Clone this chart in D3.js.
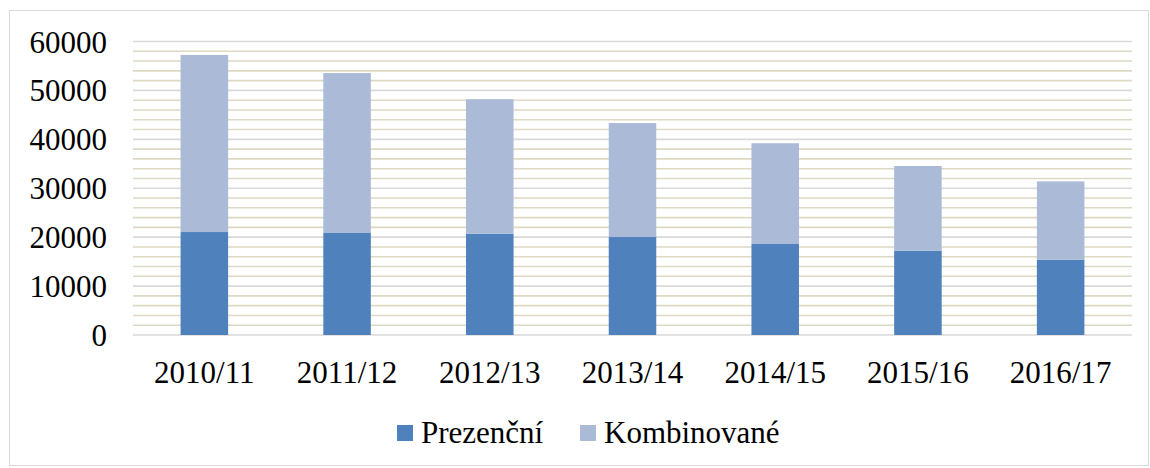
<!DOCTYPE html>
<html>
<head>
<meta charset="utf-8" />
<style>
body { margin: 0; background: white; }
svg { display: block; }
svg text { font-family: 'Liberation Serif', Tinos, 'Times New Roman', 'DejaVu Serif', serif; fill: #000; }
</style>
<script src="https://cdnjs.cloudflare.com/ajax/libs/d3/7.8.5/d3.min.js"></script>
</head>
<body>
<div id="chart"></div>
<script>
// school years
var years = ["2010/11", "2011/12", "2012/13", "2013/14", "2014/15", "2015/16", "2016/17"];
// full-time students (bottom segment)
var prezencni = [21050, 20850, 20700, 20030, 18600, 17200, 15400];
// combined-study students (stacked on top)
var kombinovane = [36200, 32700, 27500, 23300, 20600, 17350, 16000];
var seriesNames = ["Prezenční", "Kombinované"];
var yTicks = [0, 10000, 20000, 30000, 40000, 50000, 60000];

var colors = ["#4f81bd", "#aabad7"];

var W = 1150, H = 468;
var svg = d3.select("#chart").append("svg")
  .attr("width", W)
  .attr("height", H);

// chart frame
svg.append("rect")
  .attr("x", 9.5).attr("y", 10.5)
  .attr("width", W - 11).attr("height", H - 13)
  .attr("fill", "white")
  .attr("stroke", "#d9d9d9");

var x = d3.scaleBand()
  .domain(years)
  .range([133, 1132])
  .paddingInner(0.667)
  .paddingOuter(0.3335);

var y = d3.scaleLinear()
  .domain([0, 60000])
  .range([335, 41.5]);

// minor gridlines every 2000
var minor = d3.range(2000, 60000, 2000).filter(function(v) { return v % 10000 != 0 });
svg.selectAll(".minor")
  .data(minor)
  .enter().append("line")
  .attr("x1", 133).attr("x2", 1132)
  .attr("y1", function(d) { return y(d) })
  .attr("y2", function(d) { return y(d) })
  .attr("stroke", "#ddd9c3")
  .attr("stroke-width", 1.6);

// major gridlines
svg.selectAll(".major")
  .data(yTicks)
  .enter().append("line")
  .attr("x1", 133).attr("x2", 1132)
  .attr("y1", function(d) { return y(d) })
  .attr("y2", function(d) { return y(d) })
  .attr("stroke", "#d9d9d9")
  .attr("stroke-width", 1.6);

// stacked bars
var rows = years.map(function(yr, i) {
  return { year: yr, "Prezenční": prezencni[i], "Kombinované": kombinovane[i] };
});
var stack = d3.stack().keys(seriesNames)(rows);

svg.selectAll(".series")
  .data(stack)
  .enter().append("g")
  .attr("fill", function(d, i) { return colors[i] })
  .selectAll("rect")
  .data(function(d) { return d })
  .enter().append("rect")
  .attr("x", function(d) { return x(d.data.year) })
  .attr("y", function(d) { return y(d[1]) })
  .attr("width", x.bandwidth())
  .attr("height", function(d) { return y(d[0]) - y(d[1]) });

// y axis labels
svg.selectAll(".ylab")
  .data(yTicks)
  .enter().append("text")
  .attr("x", 107)
  .attr("y", function(d) { return y(d) + 11 })
  .attr("text-anchor", "end")
  .attr("font-size", "31px")
  .text(function(d) { return d });

// x axis labels
svg.selectAll(".xlab")
  .data(years)
  .enter().append("text")
  .attr("x", function(d) { return x(d) + x.bandwidth() / 2 })
  .attr("y", 383)
  .attr("text-anchor", "middle")
  .attr("font-size", "31px")
  .text(function(d) { return d });

// legend
var legendX = [397, 580];
var legend = svg.selectAll(".legend")
  .data(seriesNames)
  .enter().append("g")
  .attr("transform", function(d, i) { return "translate(" + legendX[i] + ",0)" });

legend.append("rect")
  .attr("x", 0).attr("y", 425)
  .attr("width", 16).attr("height", 16)
  .attr("fill", function(d, i) { return colors[i] });

legend.append("text")
  .attr("x", 24)
  .attr("y", 443)
  .attr("font-size", "31px")
  .text(function(d) { return d });
</script>
</body>
</html>
